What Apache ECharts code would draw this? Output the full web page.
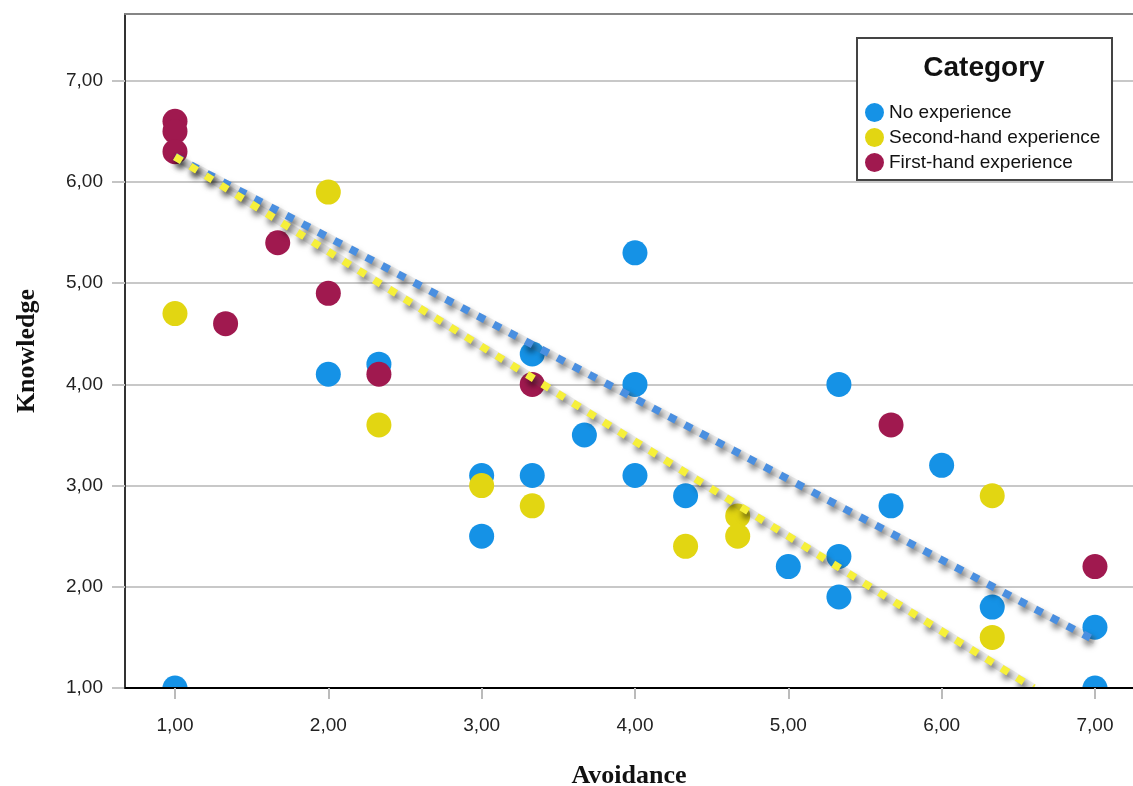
<!DOCTYPE html>
<html>
<head>
<meta charset="utf-8">
<script src="https://cdn.jsdelivr.net/npm/echarts@6/dist/echarts.min.js"></script>
<style>
html,body{margin:0;padding:0;background:#fff;}
#chart{width:1133px;height:786px;}
</style>
</head>
<body>
<div id="chart"></div>
<script>
// ---- data ----
const noExpX = [1, 2, 2.33, 3, 3, 3.33, 3.33, 3.67, 4, 4, 4, 4.33, 5, 5.33, 5.33, 5.33, 5.67, 6, 6.33, 7, 7];
const noExpY = [1.0, 4.1, 4.2, 3.1, 2.5, 4.3, 3.1, 3.5, 5.3, 4.0, 3.1, 2.9, 2.2, 4.0, 2.3, 1.9, 2.8, 3.2, 1.8, 1.6, 1.0];
const secondX = [1, 2, 2.33, 3, 3.33, 4.33, 4.67, 4.67, 6.33, 6.33];
const secondY = [4.7, 5.9, 3.6, 3.0, 2.8, 2.4, 2.7, 2.5, 2.9, 1.5];
const firstX = [1, 1, 1, 1.33, 1.67, 2, 2.33, 3.33, 5.67, 7];
const firstY = [6.6, 6.5, 6.3, 4.6, 5.4, 4.9, 4.1, 4.0, 3.6, 2.2];
// fit lines (end points)
const fitNoX = [1, 7];
const fitNoY = [6.25, 1.47];
const fitSecondX = [1, 6.6];
const fitSecondY = [6.25, 1.0];
// ticks
const xTicks = [1, 2, 3, 4, 5, 6, 7];
const yTicks = [1, 2, 3, 4, 5, 6, 7];
const seriesNames = ['No experience', 'Second-hand experience', 'First-hand experience'];
const legendTitle = 'Category';
const xName = 'Avoidance';
const yName = 'Knowledge';

function zip(xs, ys) { return xs.map((x, i) => [x, ys[i]]); }
const fmt = v => Number(v).toFixed(2).replace('.', ',');

const colBlue = '#1592e6', colYellow = '#e2d612', colMaroon = '#a0194f';
const sans = '"Liberation Sans", Arial, sans-serif';
const serif = '"Liberation Serif", "Times New Roman", serif';

function haloLine(data) {
  return {
    type: 'line', data: data, symbol: 'none', silent: true, z: 5,
    lineStyle: { color: 'rgba(120,120,120,0.14)', width: 8, shadowBlur: 4, shadowColor: 'rgba(0,0,0,0.15)', shadowOffsetX: 2, shadowOffsetY: 4 }
  };
}
function dashLine(data, color) {
  return {
    type: 'line', data: data, symbol: 'none', silent: true, z: 6,
    lineStyle: { color: color, width: 7.5, type: [8, 10], cap: 'butt',
      shadowBlur: 6, shadowColor: 'rgba(0,0,0,0.6)', shadowOffsetX: 2, shadowOffsetY: 5 }
  };
}

const chart = echarts.init(document.getElementById('chart'), null, { renderer: 'canvas' });
chart.setOption({
  animation: false,
  backgroundColor: '#fff',
  grid: { left: 125, top: 14, right: 0, bottom: 98, outerBoundsMode: 'none', containLabel: false },
  xAxis: [{
    type: 'value', min: 0.674, max: 7.248, z: 12,
    name: xName, nameLocation: 'middle', nameGap: 75,
    nameTextStyle: { fontFamily: serif, fontWeight: 'bold', fontSize: 26, color: '#111' },
    axisLine: { show: true, onZero: false, lineStyle: { color: '#000', width: 2 } },
    axisTick: { show: true, length: 11, customValues: xTicks, lineStyle: { color: '#bbb', width: 2 } },
    axisLabel: { customValues: xTicks, formatter: fmt, margin: 28, fontSize: 19, fontFamily: sans, color: '#222' },
    splitLine: { show: false }
  }, {
    type: 'value', position: 'top', min: 0.674, max: 7.248,
    axisLine: { show: true, lineStyle: { color: '#858585', width: 2 } },
    axisTick: { show: false }, axisLabel: { show: false }, splitLine: { show: false }
  }],
  yAxis: {
    type: 'value', min: 1, max: 7.66, interval: 1,
    name: yName, nameLocation: 'middle', nameGap: 85, nameRotate: 90,
    nameTextStyle: { fontFamily: serif, fontWeight: 'bold', fontSize: 26, color: '#111' },
    axisLine: { show: true, onZero: false, lineStyle: { color: '#333', width: 2 } },
    axisTick: { show: true, inside: false, length: 13, customValues: yTicks, lineStyle: { color: '#c4c4c4', width: 2 } },
    axisLabel: { customValues: yTicks, formatter: fmt, margin: 22, fontSize: 19, fontFamily: sans, color: '#222' },
    splitLine: { show: true, lineStyle: { color: '#c8c8c8', width: 2 } }
  },
  legend: {
    data: seriesNames, orient: 'vertical', left: 860, top: 98,
    icon: 'circle', itemWidth: 19, itemHeight: 19, itemGap: 6,
    textStyle: { fontSize: 19, fontFamily: sans, color: '#111' },
    selectedMode: false, z: 10
  },
  graphic: [{
    // white mask below the plot area so marks are cut at the x axis
    type: 'rect', z: 7, shape: { x: 126, y: 689, width: 1007, height: 97 },
    style: { fill: '#fff' }
  }, {
    type: 'rect', z: 8, shape: { x: 857, y: 38, width: 255, height: 142 },
    style: { fill: '#fff', stroke: '#444', lineWidth: 2 }
  }, {
    type: 'text', z: 9, x: 984, y: 68,
    style: { text: legendTitle, font: 'bold 28px ' + sans, fill: '#111', align: 'center', verticalAlign: 'middle' }
  }],
  series: [
    { name: seriesNames[0], type: 'scatter', data: zip(noExpX, noExpY), symbolSize: 25, clip: true, itemStyle: { color: colBlue, opacity: 1 }, z: 2 },
    { name: seriesNames[1], type: 'scatter', data: zip(secondX, secondY), symbolSize: 25, clip: true, itemStyle: { color: colYellow, opacity: 1 }, z: 3 },
    { name: seriesNames[2], type: 'scatter', data: zip(firstX, firstY), symbolSize: 25, clip: true, itemStyle: { color: colMaroon, opacity: 1 }, z: 4 },
    haloLine(zip(fitNoX, fitNoY)),
    haloLine(zip(fitSecondX, fitSecondY)),
    dashLine(zip(fitNoX, fitNoY), '#4a8fe0'),
    dashLine(zip(fitSecondX, fitSecondY), '#f6f03a')
  ]
});
</script>
</body>
</html>
